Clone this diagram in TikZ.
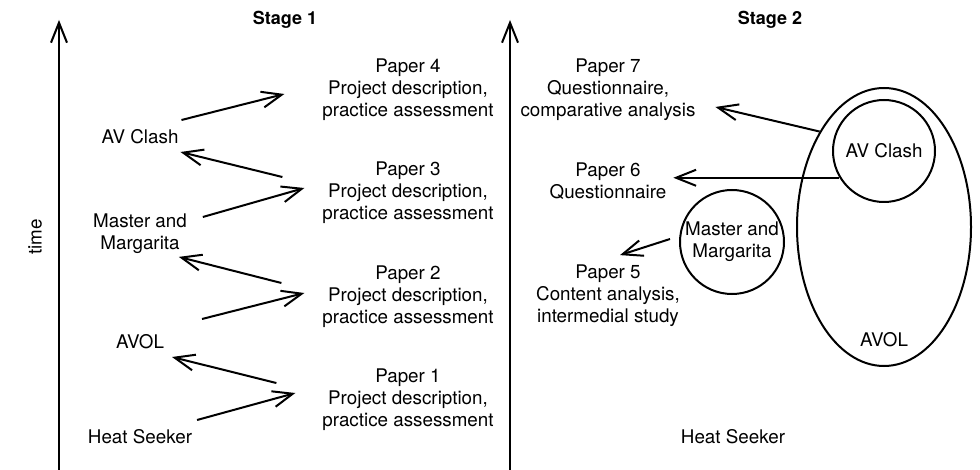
\documentclass[tikz,border=0pt]{standalone}
\usepackage{fontspec}
\setmainfont{TeX Gyre Heros}
\usetikzlibrary{arrows.meta, shapes.geometric, calc}

\begin{document}
\begin{tikzpicture}[x=1pt, y=-1pt, >={Straight Barb[length=20pt, width=16pt]}, line width=2pt, every node/.style={font=\fontsize{18.8}{22}\selectfont, inner sep=0pt, align=center}, title/.style={font=\fontsize{18}{20}\selectfont\bfseries}, ring/.style={circle, draw}]
  \useasboundingbox (0,0) rectangle (980,470);

  % time axes
  \coordinate (ax1) at (59,470);  \coordinate (ax1top) at (59,20);
  \coordinate (ax2) at (510,470); \coordinate (ax2top) at (510,20);
  \draw[->] (ax1) -- (ax1top);
  \draw[->] (ax2) -- (ax2top);
  \node[rotate=90] (time) at (35,237) {time};

  \node[title] (st1) at (285,20) {Stage 1};
  \node[title] (st2) at (770,20) {Stage 2};

  % stage 1
  \node (hs1)  at (140,437) {Heat Seeker};
  \node (avol1) at (140,342) {AVOL};
  \node (mm1)  at (140,234) {Master and\\Margarita};
  \node (avc1) at (140,137) {AV Clash};

  \node (p1) at (408,400) {Paper 1\\Project description,\\practice assessment};
  \node (p2) at (408,297) {Paper 2\\Project description,\\practice assessment};
  \node (p3) at (408,193) {Paper 3\\Project description,\\practice assessment};
  \node (p4) at (408,90)  {Paper 4\\Project description,\\practice assessment};

  \draw[->] ([shift={(4,-17)}]hs1.east)   -- ([shift={(-26,-7)}]p1.west);
  \draw[->] ([shift={(-45,-17)}]p1.west)  -- ([shift={(7,15)}]avol1.east);
  \draw[->] ([shift={(37,-23)}]avol1.east) -- ([shift={(-17,-4)}]p2.west);
  \draw[->] ([shift={(-40,-14)}]p2.west)  -- ([shift={(-9,2)}]mm1.south east);
  \draw[->] ([shift={(15,-17)}]mm1.east)  -- ([shift={(-17,-5)}]p3.west);
  \draw[->] ([shift={(-39,-16)}]p3.west)  -- ([shift={(1,15)}]avc1.east);
  \draw[->] ([shift={(2,-17)}]avc1.east)  -- ([shift={(-37,4)}]p4.west);

  % stage 2
  \node (p7) at (608,90)  {Paper 7\\Questionnaire,\\comparative analysis};
  \node (p6) at (608,181) {Paper 6\\Questionnaire};
  \node (p5) at (608,296) {Paper 5\\Content analysis,\\intermedial study};
  \node (hs2) at (733,437) {Heat Seeker};

  \node[ellipse, draw, minimum width=174pt, minimum height=278pt] (avol2) at (884,227) {};
  \node (avoltxt) at ([yshift=27pt]avol2.south) {AVOL};
  \node[ring, minimum size=102pt] (avc2) at (884,151) {AV Clash};
  \node[ring, minimum size=104pt] (mm2) at (732,242) {Master and\\Margarita};

  \draw[->] (avol2.124) -- ([shift={(19,17)}]p7.east);
  \draw[->] (avc2.211) -- ($(avc2.211 -| p6.east)+(6,0)$);
  \draw[->] ([shift={(-9,-3)}]mm2.west) -- ([shift={(12,-9)}]p5.north);
\end{tikzpicture}
\end{document}
